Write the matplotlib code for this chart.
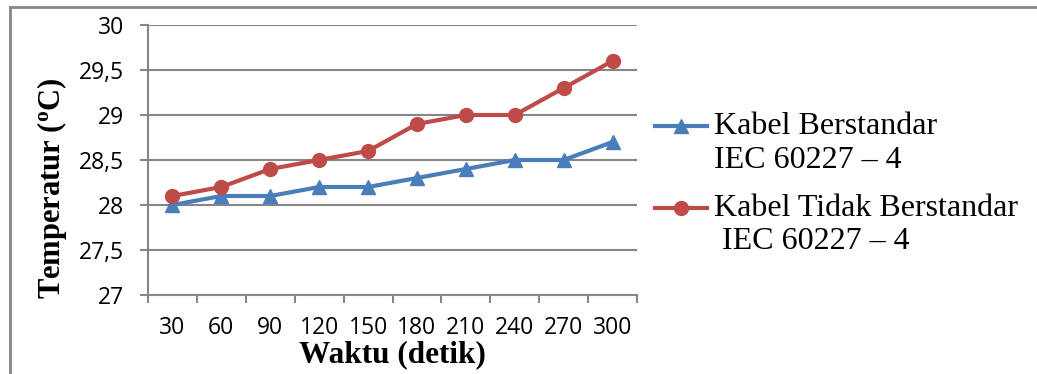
import matplotlib
matplotlib.use("Agg")
from matplotlib import pyplot as plt
from matplotlib.lines import Line2D
from matplotlib.legend_handler import HandlerLine2D

# time (s) and temperature readings for both cables
waktu = [30, 60, 90, 120, 150, 180, 210, 240, 270, 300]
kabel_standar = [28.0, 28.1, 28.1, 28.2, 28.2, 28.3, 28.4, 28.5, 28.5, 28.7]
kabel_tidak_standar = [28.1, 28.2, 28.4, 28.5, 28.6, 28.9, 29.0, 29.0, 29.3, 29.6]
y_ticks = [27, 27.5, 28, 28.5, 29, 29.5, 30]
y_tick_labels = ["27", "27,5", "28", "28,5", "29", "29,5", "30"]

BLUE = "#4a7ebb"
RED = "#be4b48"
GRID = "#868686"

plt.rcParams["mathtext.fontset"] = "custom"
plt.rcParams["mathtext.rm"] = "Liberation Serif:bold"


class FirstLineHandler(HandlerLine2D):
    # put the legend marker next to the first line of a two-line label
    def create_artists(self, legend, orig_handle, xdescent, ydescent,
                       width, height, fontsize, trans):
        return super().create_artists(legend, orig_handle, xdescent,
                                      ydescent - 24.6, width, height,
                                      fontsize, trans)


fig = plt.figure(figsize=(10.37, 3.74), dpi=100)
ax = fig.add_axes([148 / 1037, 1 - 295 / 374, (637 - 148) / 1037, (295 - 25) / 374])

# outer chart frame (top and left edges only are visible)
fig.add_artist(Line2D([10 / 1037, 1.0], [1 - 7 / 374, 1 - 7 / 374],
                      transform=fig.transFigure, color=GRID, lw=2))
fig.add_artist(Line2D([10 / 1037, 10 / 1037], [0.0, 1 - 7 / 374],
                      transform=fig.transFigure, color=GRID, lw=2))

pos = [i + 0.5 for i in range(len(waktu))]
l1, = ax.plot(pos, kabel_standar, color=BLUE, lw=3, marker="^", markersize=10,
              label="Kabel Berstandar\nIEC 60227 \u2013 4", zorder=3)
l2, = ax.plot(pos, kabel_tidak_standar, color=RED, lw=3, marker="o", markersize=10,
              label="Kabel Tidak Berstandar\n IEC 60227 \u2013 4", zorder=3)

ax.set_xlim(0, len(waktu))
ax.set_ylim(27, 30)
ax.set_yticks(y_ticks)
ax.set_yticklabels(y_tick_labels, fontfamily="Open Sans", fontsize=16.5)
ax.set_xticks(range(len(waktu) + 1))
ax.set_xticklabels([])
ax.set_xticks(pos, minor=True)
ax.set_xticklabels([str(w) for w in waktu], minor=True, fontfamily="Open Sans", fontsize=16.5)
ax.tick_params(axis="x", which="major", length=6, width=1.5, color=GRID)
ax.tick_params(axis="x", which="minor", length=0, pad=15)
ax.tick_params(axis="y", length=6, width=1.5, color=GRID, pad=11)

ax.grid(axis="y", color=GRID, lw=1.5)
ax.set_axisbelow(True)
for side in ("top", "right"):
    ax.spines[side].set_visible(False)
for side in ("left", "bottom"):
    ax.spines[side].set_color(GRID)
    ax.spines[side].set_linewidth(1.5)

ax.set_xlabel("Waktu (detik)", fontfamily="Liberation Serif", fontweight="bold",
              fontsize=22.5, labelpad=0)
ax.set_ylabel(r"Temperatur ($\mathregular{^o}$C)", fontfamily="Liberation Serif",
              fontweight="bold", fontsize=22)
ax.yaxis.set_label_coords(-0.162, 0.396)

handler = FirstLineHandler()
ax.legend(handles=[l1, l2], loc="upper left", bbox_to_anchor=(1.01, 0.724), frameon=False,
          prop={"family": "Liberation Serif", "size": 23}, handlelength=1.65,
          handletextpad=0.2, labelspacing=0.6, borderaxespad=0,
          handler_map={l1: handler, l2: handler})

fig.savefig("out.png", dpi=100)
